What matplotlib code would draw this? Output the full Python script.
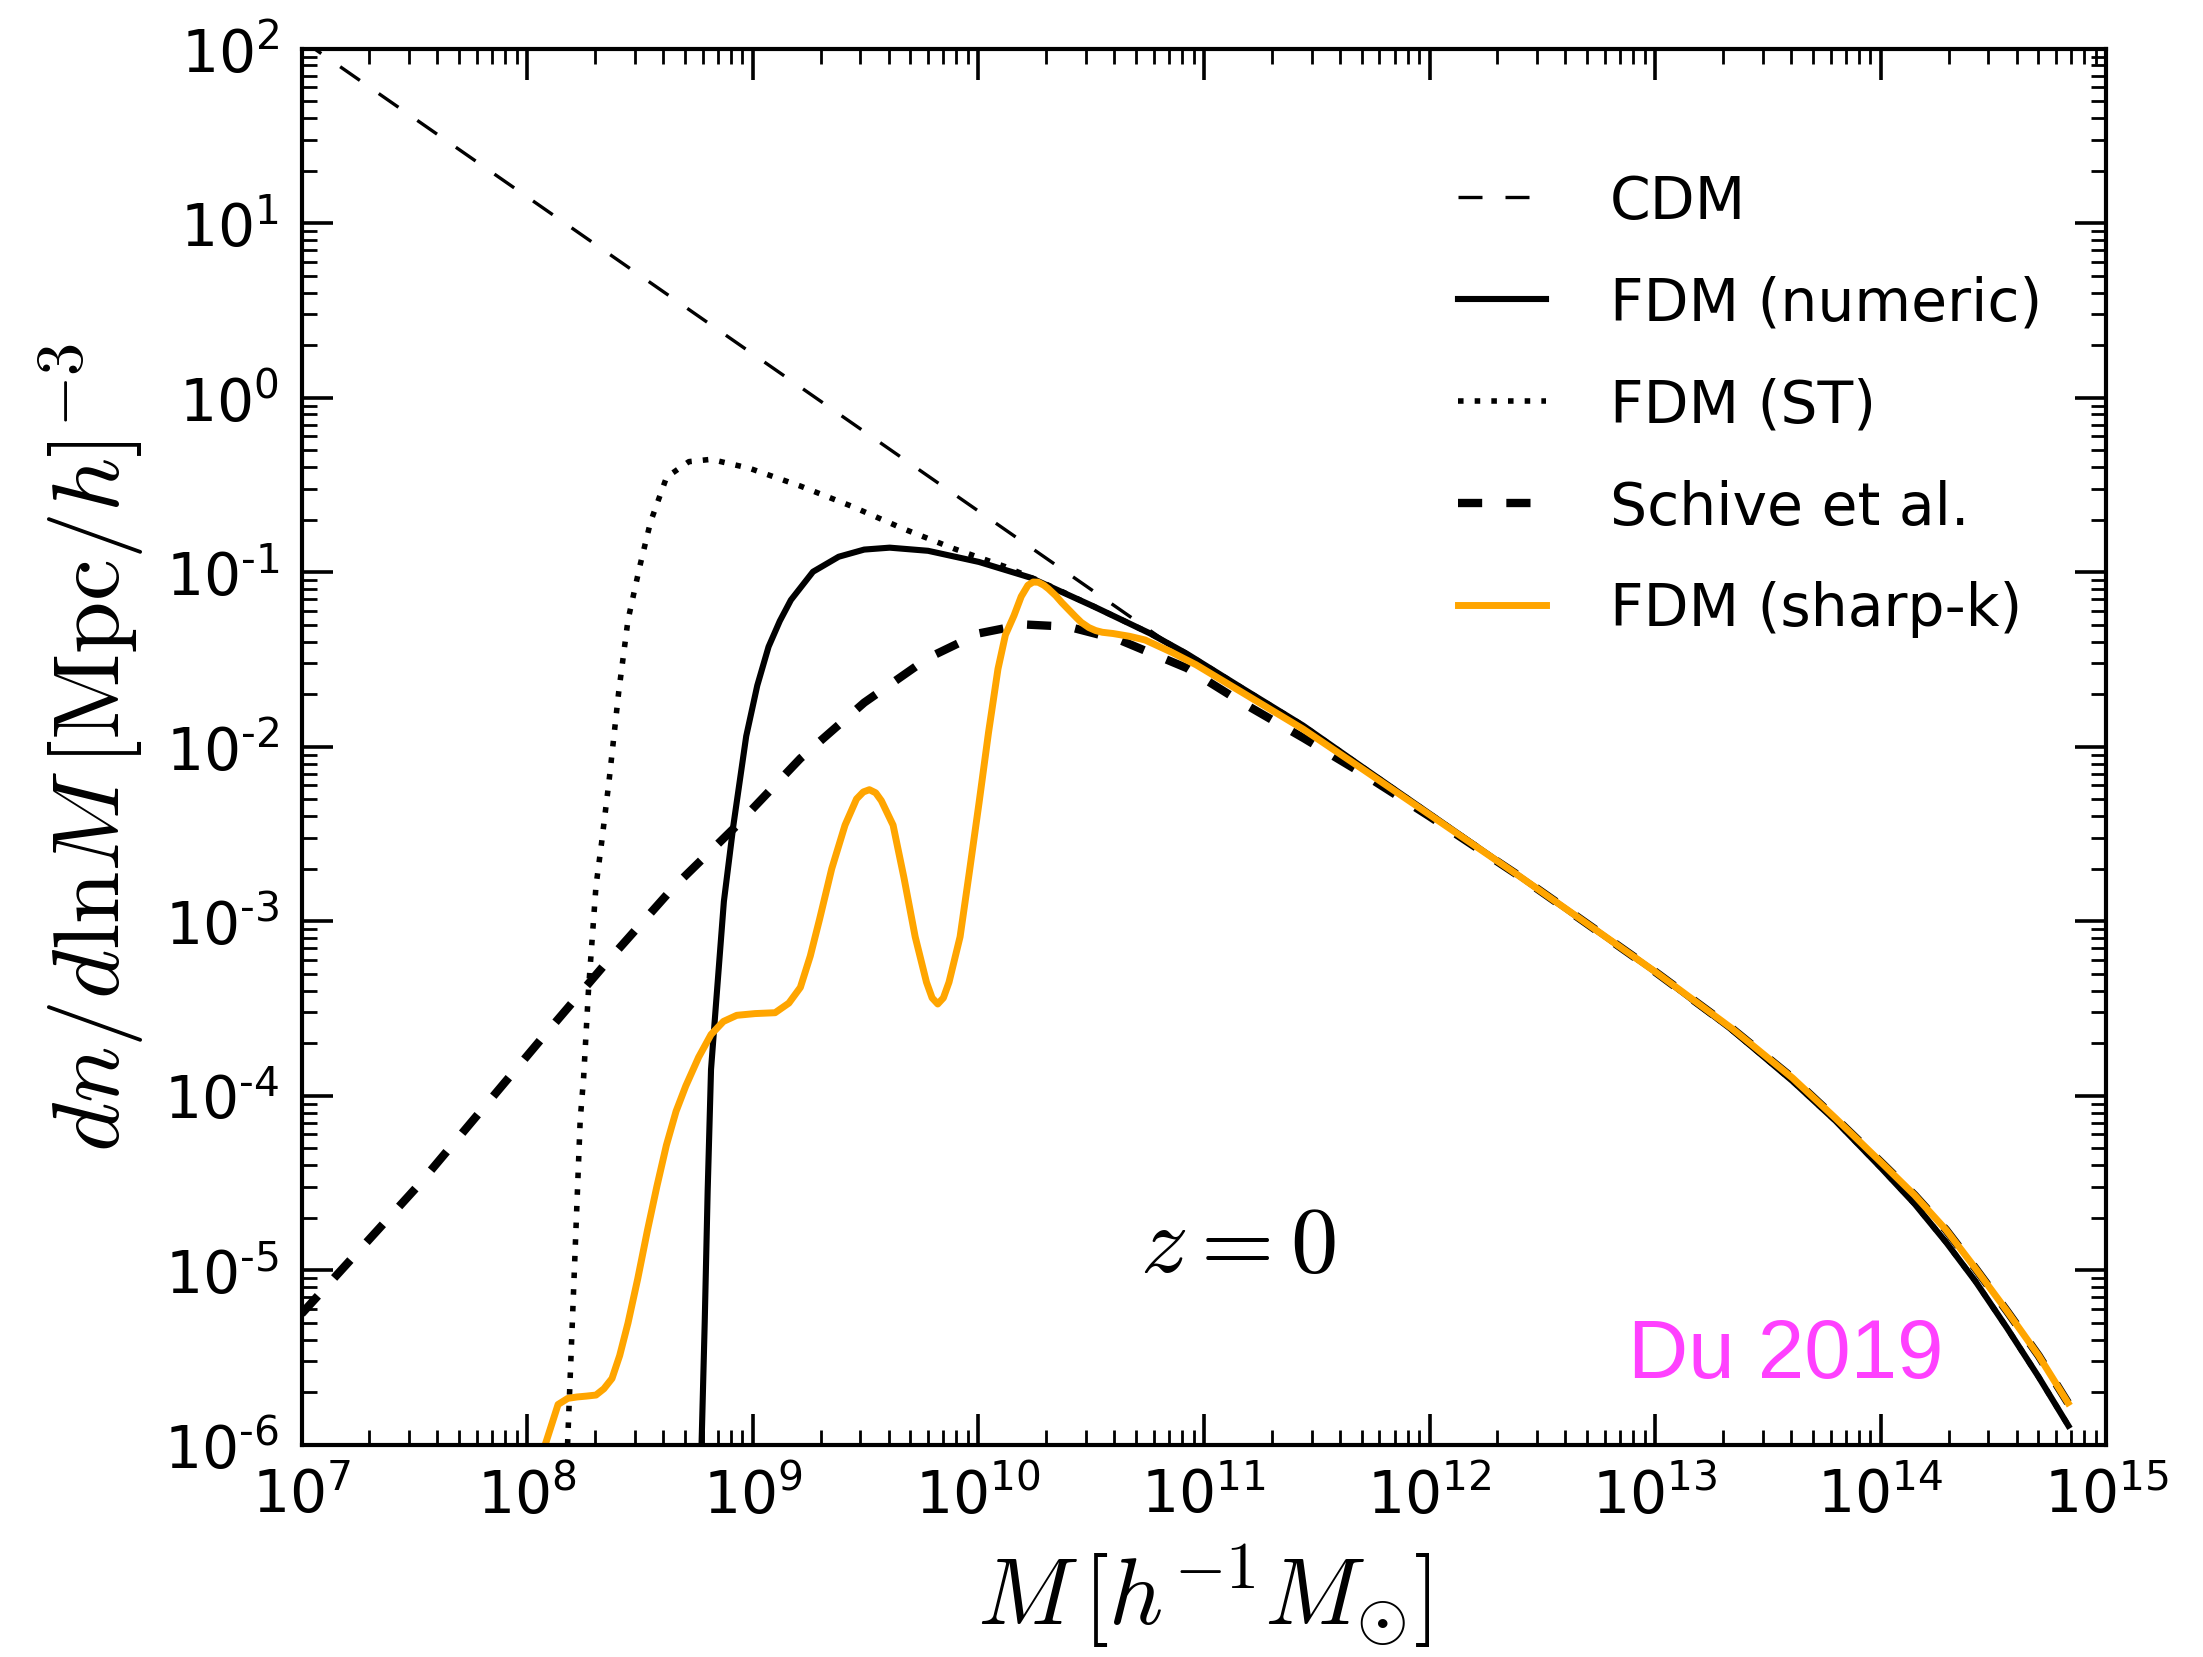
import numpy as np
import matplotlib
matplotlib.use('Agg')
import matplotlib.pyplot as plt
from matplotlib.ticker import FixedLocator, LogLocator, NullFormatter

plt.rcParams['font.family'] = 'DejaVu Sans'
plt.rcParams['mathtext.fontset'] = 'dejavusans'

# halo mass functions, log10(M [Msun/h]) vs log10(dn/dlnM [(Mpc/h)^-3])
cdm_logm = [7.0, 8.0, 9.0, 10.0, 10.8, 10.92, 11.17, 11.44, 11.71, 12.0, 12.39, 12.66,
            13.0, 13.34, 13.61, 13.8, 14.0, 14.15, 14.29, 14.42, 14.56, 14.7, 14.83]
cdm_logn = [2.05, 1.15, 0.25, -0.65, -1.37, -1.47, -1.68, -1.90, -2.135, -2.39, -2.735, -2.98,
            -3.29, -3.615, -3.90, -4.13, -4.38, -4.57, -4.77, -4.99, -5.235, -5.49, -5.76]

num_logm = [8.773, 8.787, 8.80, 8.815, 8.837, 8.872, 8.914, 8.971, 9.02, 9.07, 9.12, 9.169,
            9.267, 9.381, 9.494, 9.607, 9.777, 10.003, 10.229, 10.513, 10.762, 10.924,
            11.168, 11.439, 11.711, 12.004, 12.389, 12.66, 13.003, 13.339, 13.61, 13.8,
            13.999, 14.15, 14.289, 14.42, 14.56, 14.7, 14.832]
num_logn = [-6.0, -5.30, -4.55, -3.85, -3.475, -2.887, -2.452, -1.94, -1.65, -1.428, -1.28, -1.16,
            -0.998, -0.912, -0.871, -0.860, -0.878, -0.942, -1.031, -1.198, -1.352, -1.468,
            -1.664, -1.879, -2.125, -2.388, -2.734, -2.981, -3.293, -3.622, -3.918, -4.145,
            -4.411, -4.62, -4.839, -5.064, -5.332, -5.612, -5.892]

st_logm = [8.179, 8.208, 8.235, 8.25, 8.272, 8.305, 8.33, 8.363, 8.406, 8.447, 8.499, 8.547,
           8.618, 8.717, 8.815, 8.985, 9.211, 9.437, 9.664, 9.890, 10.117, 10.26, 10.513,
           10.762, 10.924, 11.168, 11.439, 11.711, 12.004, 12.389, 12.66, 13.003, 13.339,
           13.61, 13.8, 13.999, 14.15, 14.289, 14.42, 14.56, 14.7, 14.832]
st_logn = [-6.0, -5.04, -4.14, -3.90, -3.39, -2.80, -2.55, -2.196, -1.684, -1.274, -0.968, -0.712,
           -0.456, -0.367, -0.354, -0.405, -0.507, -0.622, -0.750, -0.865, -0.968, -1.045, -1.198,
           -1.352, -1.468, -1.664, -1.879, -2.125, -2.388, -2.734, -2.981, -3.293, -3.622,
           -3.918, -4.145, -4.411, -4.62, -4.839, -5.064, -5.332, -5.612, -5.892]

schive_logm = [7.0, 7.515, 8.08, 8.35, 8.646, 8.929, 9.211, 9.494, 9.777, 10.003, 10.201, 10.399,
               10.626, 10.924, 11.168, 11.44, 11.71, 12.0, 12.39, 12.66, 13.0, 13.34, 13.61,
               13.8, 14.0, 14.15, 14.29, 14.42, 14.56, 14.7, 14.83]
schive_logn = [-5.25, -4.518, -3.649, -3.24, -2.81, -2.452, -2.068, -1.748, -1.492, -1.351, -1.30, -1.313,
               -1.389, -1.55, -1.747, -1.95, -2.16, -2.40, -2.735, -2.98, -3.29, -3.615, -3.90,
               -4.13, -4.38, -4.57, -4.77, -4.99, -5.235, -5.49, -5.76]

sharpk_logm = [8.08, 8.137, 8.18, 8.221, 8.263, 8.305, 8.34, 8.376, 8.41, 8.447, 8.49, 8.533,
               8.575, 8.617, 8.66, 8.703, 8.76, 8.815, 8.87, 8.929, 9.01, 9.099, 9.16, 9.211,
               9.255, 9.296, 9.35, 9.409, 9.46, 9.49, 9.517, 9.545, 9.57, 9.622, 9.67, 9.720,
               9.77, 9.795, 9.82, 9.845, 9.87, 9.919, 9.96, 10.003, 10.045, 10.087, 10.12,
               10.158, 10.19, 10.22, 10.243, 10.265, 10.29, 10.31, 10.343, 10.37, 10.40, 10.43,
               10.456, 10.49, 10.52, 10.55, 10.597, 10.67, 10.739, 10.85, 10.965, 11.17, 11.44,
               11.71, 12.0, 12.39, 12.66, 13.0, 13.34, 13.61, 13.8, 14.0, 14.15, 14.29, 14.42,
               14.56, 14.7, 14.83]
sharpk_logn = [-6.0, -5.77, -5.735, -5.727, -5.722, -5.716, -5.68, -5.621, -5.49, -5.303, -5.05, -4.773,
               -4.52, -4.285, -4.09, -3.945, -3.78, -3.65, -3.575, -3.54, -3.53, -3.525, -3.47, -3.38,
               -3.20, -2.99, -2.70, -2.45, -2.30, -2.26, -2.247, -2.265, -2.31, -2.45, -2.75, -3.09,
               -3.35, -3.44, -3.475, -3.44, -3.35, -3.09, -2.72, -2.323, -1.92, -1.555, -1.36,
               -1.249, -1.14, -1.075, -1.057, -1.058, -1.075, -1.095, -1.135, -1.175, -1.215, -1.255,
               -1.288, -1.318, -1.335, -1.345, -1.352, -1.368, -1.389, -1.455, -1.531, -1.69, -1.90,
               -2.135, -2.39, -2.735, -2.98, -3.29, -3.615, -3.90, -4.13, -4.38, -4.57, -4.77, -4.99,
               -5.235, -5.49, -5.76]

xtick_exp = list(range(7, 16))
ytick_exp = list(range(-6, 3))


def pw(a):
    return 10.0 ** np.asarray(a)


fig = plt.figure(figsize=(11.015, 8.29), dpi=200)
ax = fig.add_axes([0.1369, 0.1281, 0.8192, 0.8420])

ax.plot(pw(cdm_logm), pw(cdm_logn), color='k', lw=1.2, dashes=(7.2, 6.9), label='CDM')
ax.plot(pw(num_logm), pw(num_logn), color='k', lw=2.2, label='FDM (numeric)')
ax.plot(pw(st_logm), pw(st_logn), color='k', lw=2.0, dashes=(1, 2), label='FDM (ST)')
ax.plot(pw(schive_logm), pw(schive_logn), color='k', lw=3.0, dashes=(2.9, 2.9), label='Schive et al.')
ax.plot(pw(sharpk_logm), pw(sharpk_logn), color='orange', lw=2.5, label='FDM (sharp-k)')

ax.set_xscale('log')
ax.set_yscale('log')
ax.set_xlim(1e7, 1e15)
ax.set_ylim(1e-6, 1e2)

ax.xaxis.set_major_locator(FixedLocator([10.0 ** k for k in xtick_exp]))
ax.yaxis.set_major_locator(FixedLocator([10.0 ** k for k in ytick_exp]))
ax.set_xticklabels([r'$10^{\text{%d}}$' % k for k in xtick_exp])
ax.set_yticklabels([r'$10^{\text{%d}}$' % k for k in ytick_exp])
ax.xaxis.set_minor_locator(LogLocator(base=10, subs=np.arange(2, 10), numticks=100))
ax.yaxis.set_minor_locator(LogLocator(base=10, subs=np.arange(2, 10), numticks=100))
ax.xaxis.set_minor_formatter(NullFormatter())
ax.yaxis.set_minor_formatter(NullFormatter())

ax.tick_params(which='both', direction='in', top=True, right=True, labelsize=21, pad=8)
ax.tick_params(which='major', length=11, width=1.3)
ax.tick_params(which='minor', length=5.5, width=1.0)
for s in ax.spines.values():
    s.set_linewidth(1.5)

ax.set_xlabel(r'$M\,[h^{-1}M_{\odot}]$', fontsize=34, math_fontfamily='cm')
ax.set_ylabel(r'$dn/d\mathrm{ln}M\,[\mathrm{Mpc}/h]^{-3}$', fontsize=34, math_fontfamily='cm')
ax.xaxis.set_label_coords(0.5, -0.07)
ax.yaxis.set_label_coords(-0.0856, 0.5)

ax.text(0.519, 0.1244, r'$z=0$', transform=ax.transAxes, fontsize=34,
        math_fontfamily='cm', ha='center', va='baseline')
ax.text(0.7348, 0.0484, 'Du 2019', transform=ax.transAxes, fontsize=30,
        family='Liberation Sans', color='#ff40ff', ha='left', va='baseline')

ax.legend(loc='upper left', bbox_to_anchor=(0.641, 0.911), frameon=False, fontsize=21,
          borderpad=0, borderaxespad=0, handlelength=1.5, handletextpad=1.1,
          labelspacing=0.77)

fig.savefig('out.png', dpi=200)
